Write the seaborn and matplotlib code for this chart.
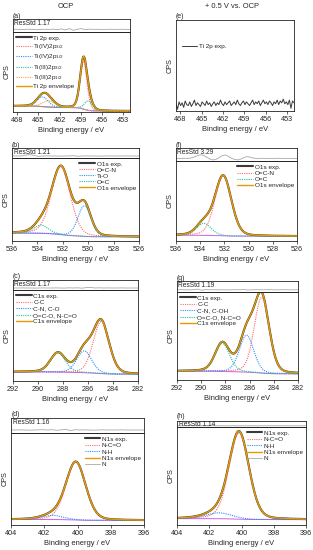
import numpy as np
import matplotlib
matplotlib.use("Agg")
import matplotlib.pyplot as plt
import seaborn as sns
from matplotlib.lines import Line2D

W, H = 313, 550

# ---------------- data ----------------
# peak fits: position (eV), height (fraction of axis), FWHM (eV)
# backgrounds: [high-BE level, low-BE level]

# (a) Ti 2p, OCP
ti_ocp_names = ["Ti(IV)2p$_{3/2}$", "Ti(IV)2p$_{1/2}$", "Ti(III)2p$_{3/2}$", "Ti(III)2p$_{1/2}$"]
ti_ocp_pos = [458.6, 464.4, 457.9, 463.5]
ti_ocp_amp = [0.60, 0.12, 0.12, 0.08]
ti_ocp_fwhm = [1.15, 1.9, 1.3, 2.0]
ti_ocp_bg = [0.075, 0.012]
ti_ocp_res = [0.0, 0.05, -0.05, 0.0, 0.05, 0.0, -0.05, 0.0, 0.05, 0.0, 0.1, -0.1, 0.2, -0.2,
              0.3, -0.35, 0.1, 0.3, -0.1, 0.1, 0.0, 0.05, -0.05, 0.0, 0.05, 0.0, 0.0, 0.05, 0.0, 0.0]

# (e) Ti 2p, +0.5 V -- only noise
ti_pos_exp = [0.08, 0.02, 0.10, 0.06, 0.09, 0.04, 0.11, 0.07, 0.06, 0.10, 0.05, 0.08, 0.12, 0.06,
              0.09, 0.07, 0.05, 0.10, 0.08, 0.06, 0.11, 0.07, 0.09, 0.05, 0.08, 0.10, 0.06, 0.09,
              0.07, 0.12, 0.08, 0.06, 0.10, 0.07, 0.09, 0.11, 0.06, 0.08, 0.10, 0.07, 0.12, 0.08,
              0.06, 0.09, 0.11, 0.07, 0.10, 0.08, 0.06, 0.09, 0.12, 0.07, 0.10, 0.08, 0.11, 0.06,
              0.09, 0.12, 0.08, 0.10, 0.07, 0.11, 0.09, 0.06, 0.10, 0.08, 0.12, 0.07, 0.11, 0.09,
              0.13, 0.08, 0.10, 0.07, 0.12, 0.03, 0.11, 0.09]

# (b) O1s, OCP
o_ocp_names = ["O=C-N", "Ti-O", "O=C"]
o_ocp_pos = [532.15, 530.3, 533.7]
o_ocp_amp = [0.82, 0.37, 0.10]
o_ocp_fwhm = [1.75, 1.2, 1.35]
o_ocp_bg = [0.095, 0.05]
o_ocp_res = [0.0, 0.05, 0.0, 0.4, 0.7, 0.3, -0.2, 0.0, 0.05, 0.0, 0.0, -0.05, 0.0, 0.05, 0.15,
             -0.15, 0.0, 0.05, 0.0, 0.0, -0.05, 0.0, 0.05, 0.0, 0.0, 0.0, 0.05, 0.0, 0.0, 0.0]

# (f) O1s, +0.5 V
o_pos_names = ["O=C-N", "O=C"]
o_pos_pos = [532.1, 533.7]
o_pos_amp = [0.75, 0.15]
o_pos_fwhm = [1.6, 1.4]
o_pos_bg = [0.072, 0.06]
o_pos_res = [0.0, 0.0, 0.0, 0.05, 0.0, 0.2, 0.6, 1.1, 1.4, 1.1, 0.4, -0.3, -0.6, -0.3, 0.4, 1.1,
             1.3, 0.7, 0.0, -0.4, -0.6, -0.2, 0.4, 0.7, 0.4, 0.1, 0.0, 0.0, 0.05, 0.0, 0.0, 0.0,
             0.0, 0.05, 0.0, 0.0, 0.0, 0.0, 0.0, 0.0]

# (c) C1s, OCP
c_ocp_names = ["C-C", "C-N, C-O", "O=C-O, N-C=O"]
c_ocp_pos = [284.95, 286.3, 288.4]
c_ocp_amp = [0.57, 0.24, 0.21]
c_ocp_fwhm = [1.5, 1.4, 1.4]
c_ocp_bg = [0.10, 0.075]
c_ocp_res = [0.0, 0.0, 0.05, 0.0, 0.0, -0.05, 0.0, 0.05, 0.0, 0.0, 0.05, 0.0, -0.05, 0.1, 0.0,
             0.1, -0.1, 0.2, 0.3, 0.0, 0.1, 0.0, 0.05, 0.0, 0.0, 0.05, 0.0, 0.0, 0.0, 0.0]

# (g) C1s, +0.5 V
c_pos_names = ["C-C", "C-N, C-OH", "O=C-O, N-C=O"]
c_pos_pos = [285.0, 286.25, 288.25]
c_pos_amp = [0.86, 0.42, 0.32]
c_pos_fwhm = [1.45, 1.4, 1.4]
c_pos_bg = [0.10, 0.07]
c_pos_res = [0.0, 0.05, 0.0, 0.0, 0.1, 0.3, -0.2, 0.1, 0.0, 0.05, 0.0, 0.0, -0.05, 0.0, 0.05,
             0.0, 0.1, -0.1, 0.0, 0.05, 0.0, 0.0, 0.05, 0.0, 0.0, 0.0, 0.05, 0.0, 0.0, 0.0]

# (d) N1s, OCP
n_ocp_names = ["N-C=O", "N-H"]
n_ocp_pos = [400.1, 401.5]
n_ocp_amp = [0.63, 0.045]
n_ocp_fwhm = [1.4, 1.5]
n_ocp_bg = [0.06, 0.05]
n_ocp_res = [0.0, 0.0, 0.05, 0.0, -0.05, 0.0, 0.05, 0.1, 0.0, 0.1, -0.1, 0.05, 0.2, -0.2, 0.1,
             0.0, 0.05, 0.0, -0.05, 0.0, 0.05, 0.0, 0.0, 0.0, 0.05, 0.0, 0.0, 0.0, 0.0, 0.0]

# (h) N1s, +0.5 V
n_pos_names = ["N-C=O", "N-H"]
n_pos_pos = [400.15, 401.4]
n_pos_amp = [0.88, 0.06]
n_pos_fwhm = [1.45, 1.9]
n_pos_bg = [0.065, 0.055]
n_pos_res = [0.0, 0.0, 0.05, 0.0, 0.0, 0.0, 0.05, 0.0, 0.1, 0.0, 0.05, 0.0, 0.0, 0.05, 0.0,
             0.0, 0.0, 0.05, 0.0, 0.0, 0.0, 0.0, 0.0, 0.05, 0.0, 0.0, 0.0, 0.0, 0.0, 0.0]

GL_MIX = 0.2  # Lorentzian fraction of the GL line shape

COMP_COLORS = ["#ff6b6b", "#2f8fff", "#22c29a", "#ffa23a"]
EXP_COLOR = "#3a3a3a"
ENV_COLOR = "#e59c00"
BG_COLOR = "#cc5fe8"
RES_COLOR = "#a8a8a8"

sns.set_theme(style="ticks")
plt.rcParams["font.family"] = ["Liberation Sans", "DejaVu Sans"]
plt.rcParams["axes.linewidth"] = 0.6
plt.rcParams["mathtext.fontset"] = "custom"
plt.rcParams["mathtext.rm"] = "Liberation Sans"
plt.rcParams["mathtext.it"] = "Liberation Sans"

fig = plt.figure(figsize=(W / 100, H / 100), dpi=100)


def rect(l, t, r, b):
    return [l / W, 1 - b / H, (r - l) / W, (b - t) / H]


def gl(x, c, a, w):
    d = 4 * (x - c) ** 2 / w ** 2
    return a * ((1 - GL_MIX) * np.exp(-np.log(2) * d) + GL_MIX / (1 + d))


def style_main(ax, xlim, ticks):
    ax.set_xlim(xlim)
    ax.set_ylim(0, 1)
    ax.set_xticks(ticks)
    ax.set_xticklabels([str(t) for t in ticks], fontsize=5.2)
    ax.set_yticks([])
    ax.tick_params(axis="x", direction="out", length=2, width=0.5, pad=1.5)
    ax.set_xlabel("Binding energy / eV", fontsize=5.4, labelpad=2)
    ax.set_ylabel("CPS", fontsize=5.2, labelpad=2)
    for s in ax.spines.values():
        s.set_linewidth(0.6)
        s.set_color("#222222")


def residual(ax, xlim, vals, label):
    xr = np.linspace(xlim[0], xlim[1], len(vals))
    sns.lineplot(x=xr, y=vals, ax=ax, color=RES_COLOR, linewidth=0.6)
    ax.set_xlim(xlim)
    ax.set_ylim(-1, 4)
    ax.set_xticks([])
    ax.set_yticks([])
    ax.set_xlabel("")
    ax.set_ylabel("")
    for s in ax.spines.values():
        s.set_linewidth(0.6)
        s.set_color("#222222")
    ax.text(0.012, 0.93, label, transform=ax.transAxes, fontsize=4.8, va="top", ha="left")


def fit_panel(main_rect, res_rect, xlim, ticks, core, names, pos, amp, fwhm, bg,
              res_vals, res_label, loc, colors=COMP_COLORS, extra_n=False, spacing=0.25):
    ax = fig.add_axes(rect(*main_rect))
    x = np.linspace(min(xlim), max(xlim), 700)
    comps = [gl(x, c, a, w) for c, a, w in zip(pos, amp, fwhm)]
    total = np.sum(comps, axis=0)
    cum = np.concatenate([[0], np.cumsum((total[1:] + total[:-1]) / 2 * np.diff(x))])
    back = bg[1] + (bg[0] - bg[1]) * cum / cum[-1]
    env = back + total

    sns.lineplot(x=x, y=back, ax=ax, color=BG_COLOR, linewidth=0.7)
    sns.lineplot(x=x, y=env, ax=ax, color=EXP_COLOR, linewidth=1.5, label=f"{core} exp.")
    for comp, nm, col in zip(comps, names, colors):
        sns.lineplot(x=x, y=back + comp, ax=ax, color=col, linewidth=0.8,
                     linestyle=(0, (1, 1)), label=nm)
    sns.lineplot(x=x, y=env, ax=ax, color=ENV_COLOR, linewidth=1.0, label=f"{core} envelope")
    style_main(ax, xlim, ticks)

    handles, labels = ax.get_legend_handles_labels()
    if extra_n:
        handles.append(Line2D([], [], color=RES_COLOR, linewidth=0.6))
        labels.append("N")
    ax.legend(handles, labels, loc=loc, frameon=False, fontsize=4.6, handlelength=2.4,
              handletextpad=0.3, labelspacing=spacing, borderaxespad=0.3, borderpad=0.2)

    rax = fig.add_axes(rect(*res_rect))
    residual(rax, xlim, res_vals, res_label)
    return ax


ti_lim = (468.6, 452.0)
ti_ticks = [468, 465, 462, 459, 456, 453]
o_lim = (536, 526)
o_ticks = [536, 534, 532, 530, 528, 526]
c_lim = (292, 282)
c_ticks = [292, 290, 288, 286, 284, 282]
n_lim = (404, 396)
n_ticks = [404, 402, 400, 398, 396]

# left column: OCP
fit_panel((13, 32, 130, 112), (13, 19, 130, 32), ti_lim, ti_ticks, "Ti 2p",
          ti_ocp_names, ti_ocp_pos, ti_ocp_amp, ti_ocp_fwhm, ti_ocp_bg,
          ti_ocp_res, "ResStd 1.17", "upper left", spacing=0.22)
fit_panel((12, 158, 139, 241), (12, 148, 139, 158), o_lim, o_ticks, "O1s",
          o_ocp_names, o_ocp_pos, o_ocp_amp, o_ocp_fwhm, o_ocp_bg,
          o_ocp_res, "ResStd 1.21", "upper right", spacing=0.08)
fit_panel((13, 290, 138, 381), (13, 280, 138, 290), c_lim, c_ticks, "C1s",
          c_ocp_names, c_ocp_pos, c_ocp_amp, c_ocp_fwhm, c_ocp_bg,
          c_ocp_res, "ResStd 1.17", "upper left", spacing=0.15)
fit_panel((11, 433, 144, 525), (11, 418, 144, 433), n_lim, n_ticks, "N1s",
          n_ocp_names, n_ocp_pos, n_ocp_amp, n_ocp_fwhm, n_ocp_bg,
          n_ocp_res, "ResStd 1.16", "upper right", extra_n=True, spacing=0.15)

# right column: +0.5 V vs. OCP
ax_e = fig.add_axes(rect(176, 20, 294, 111))
xe = np.linspace(ti_lim[0], ti_lim[1], len(ti_pos_exp))
sns.lineplot(x=xe, y=ti_pos_exp, ax=ax_e, color=EXP_COLOR, linewidth=0.7, label="Ti 2p exp.")
style_main(ax_e, ti_lim, ti_ticks)
ax_e.legend(loc="upper left", bbox_to_anchor=(0.0, 0.8), frameon=False, fontsize=4.6,
            handlelength=2.4, handletextpad=0.3)

fit_panel((176, 161, 297, 241), (176, 148, 297, 161), o_lim, o_ticks, "O1s",
          o_pos_names, o_pos_pos, o_pos_amp, o_pos_fwhm, o_pos_bg,
          o_pos_res, "ResStd 3.29", "upper right",
          colors=[COMP_COLORS[0], COMP_COLORS[2]], spacing=0.1)
fit_panel((177, 292, 298, 380), (177, 281, 298, 292), c_lim, c_ticks, "C1s",
          c_pos_names, c_pos_pos, c_pos_amp, c_pos_fwhm, c_pos_bg,
          c_pos_res, "ResStd 1.19", "upper left", spacing=0.15)
fit_panel((177, 427, 306, 525), (177, 421, 306, 427), n_lim, n_ticks, "N1s",
          n_pos_names, n_pos_pos, n_pos_amp, n_pos_fwhm, n_pos_bg,
          n_pos_res, "ResStd 1.14", "upper right", extra_n=True, spacing=0.15)

# panel letters and column titles
for lab, px, py in [("(a)", 13, 16), ("(b)", 12, 146), ("(c)", 13, 277), ("(d)", 12, 415),
                    ("(e)", 176, 16), ("(f)", 176, 146), ("(g)", 177, 278), ("(h)", 177, 416)]:
    fig.text(px / W, 1 - py / H, lab, fontsize=5, va="center", ha="left")
fig.text(66 / W, 1 - 6 / H, "OCP", fontsize=5.4, ha="center", va="center")
fig.text(232 / W, 1 - 6 / H, "+ 0.5 V vs. OCP", fontsize=5.4, ha="center", va="center")

fig.savefig("out.png", dpi=100)
